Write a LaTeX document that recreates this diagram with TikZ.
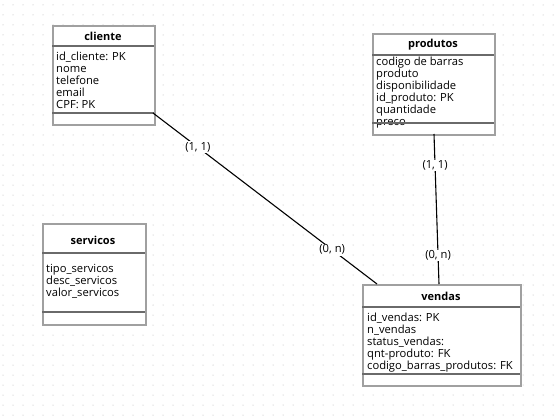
\documentclass[tikz,border=0pt]{standalone}
\usepackage{fontspec}
\setmainfont{Open Sans}
\definecolor{boxgray}{HTML}{A0A0A0}
\definecolor{sepgray}{HTML}{6A6A6A}
\definecolor{dotgray}{HTML}{B4B4B4}
\begin{document}
\begin{tikzpicture}[x=1pt,y=-1pt]
\tikzset{boite/.style={draw=boxgray, line width=1.6pt, fill=white, anchor=north west, inner sep=0pt},
  titre/.style={inner sep=0pt, font=\bfseries\fontsize{11}{12}\selectfont},
  attr/.style={anchor=north west, inner sep=0pt, align=left, font=\fontsize{11.2}{12}\selectfont},
  sep/.style={draw=sepgray, line width=1.2pt},
  lbl/.style={fill=white, inner sep=1pt, font=\fontsize{11.2}{12}\selectfont}}
\useasboundingbox (0,0) rectangle (555,420);
\fill[white] (0,0) rectangle (555,420);
% grille
\foreach \x in {3,13,...,553}
  \foreach \y in {5,15,...,415}
    \fill[dotgray] (\x,\y) circle (0.5);
% cliente
\node[boite, minimum width=102pt, minimum height=99pt] (cliente) at (52,25) {};
\node[titre] (tcliente) at (103,36) {cliente};
\draw[sep] (52,46) -- (154,46);
\node[attr] (acliente) at (56,51.5) {id\_cliente: PK\\nome\\telefone\\email\\CPF: PK};
\draw[sep] (52,113) -- (154,113);
% produtos
\node[boite, minimum width=122pt, minimum height=101pt] (produtos) at (372,33) {};
\node[titre] (tprodutos) at (433,45) {produtos};
\draw[sep] (372,55) -- (494,55);
\node[attr] (aprodutos) at (376,56.5) {codigo de barras\\produto\\disponibilidade\\id\_produto: PK\\quantidade\\preco};
\draw[sep] (372,123) -- (494,123);
% servicos
\node[boite, minimum width=103pt, minimum height=101pt] (servicos) at (42,223) {};
\node[titre] (tservicos) at (93,240) {servicos};
\draw[sep] (42,253) -- (145,253);
\node[attr] (aservicos) at (46,264.5) {tipo\_servicos\\desc\_servicos\\valor\_servicos};
\draw[sep] (42,312) -- (145,312);
% vendas
\node[boite, minimum width=158pt, minimum height=101pt] (vendas) at (362,284) {};
\node[titre] (tvendas) at (441,296) {vendas};
\draw[sep] (362,307) -- (520,307);
\node[attr] (avendas) at (367,312.5) {id\_vendas: PK\\n\_vendas\\status\_vendas:\\qnt-produto: FK\\codigo\_barras\_produtos: FK};
\draw[sep] (362,374) -- (520,374);
% liaisons
\coordinate (c1) at (153,113);
\coordinate (v1) at (377,284);
\coordinate (p1) at (434,134);
\coordinate (v2) at (439,284);
\draw[line width=1.1pt] (c1) -- node[lbl, pos=0.2] {(1, 1)} node[lbl, pos=0.8] {(0, n)} (v1);
\draw[line width=1.1pt] (p1) -- node[lbl, pos=0.21] {(1, 1)} node[lbl, pos=0.81] {(0, n)} (v2);
\end{tikzpicture}
\end{document}
